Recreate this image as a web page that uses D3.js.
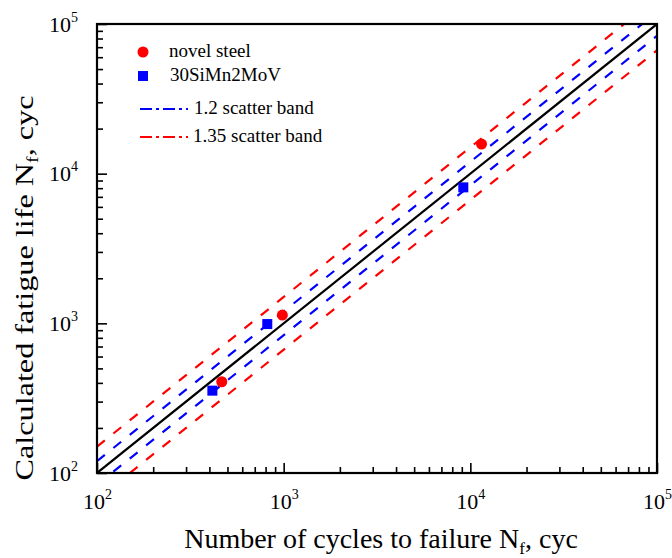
<!DOCTYPE html>
<html>
<head>
<meta charset="utf-8">
<script src="https://cdn.jsdelivr.net/npm/d3@7"></script>
<style>
    body { margin: 0; background: #fff; }
    text { font-family: "Liberation Serif", "Times New Roman", serif; fill: #000; }
</style>
</head>
<body>
<svg id="chart" width="672" height="558"></svg>
<script>
// data
var novelX      = [466, 984, 11480];
var novelY      = [407, 1136, 15770];
var steelX      = [415, 817, 9170];
var steelY      = [355, 989, 8100];
var lineX       = [100, 100000];
var bandFactors = [1.2, 1.5];
var bandColors  = ["#0000ff", "#ff0000"];
var majorTicks  = [1e2, 1e3, 1e4, 1e5];
var legendNames = ["novel steel", "30SiMn2MoV", "1.2 scatter band", "1.35 scatter band"];

var margin = {left: 97, top: 24, right: 15, bottom: 85};
var width  = 672 - margin.left - margin.right;
var height = 558 - margin.top - margin.bottom;

var svg = d3.select("#chart");
var g   = svg.append("g")
    .attr("transform", "translate(" + margin.left + "," + margin.top + ")");

var x = d3.scaleLog().domain([1e2, 1e5]).range([0, width]);
var y = d3.scaleLog().domain([1e2, 1e5]).range([height, 0]);

// minor ticks
var minorTicks = [];
for (var e = 2; e < 5; e++) {
    for (var m = 2; m < 10; m++) minorTicks.push(m * Math.pow(10, e));
}

svg.append("clipPath")
    .attr("id", "plotclip")
    .append("rect")
        .attr("width",  width)
        .attr("height", height);

var plot = g.append("g").attr("clip-path", "url(#plotclip)");

var line = d3.line()
    .x(function(d) { return x(d[0]); })
    .y(function(d) { return y(d[1]); });

// scatter bands
bandFactors.forEach(function(f, i) {
    [f, 1 / f].forEach(function(k) {
        plot.append("path")
            .datum(lineX.map(function(v) { return [v, v * k]; }))
            .attr("d",                line)
            .attr("fill",             "none")
            .attr("stroke",           bandColors[i])
            .attr("stroke-width",     2.2)
            .attr("stroke-dasharray", "10,11");
    });
});

// 1:1 line
plot.append("path")
    .datum(lineX.map(function(v) { return [v, v]; }))
    .attr("d",            line)
    .attr("fill",         "none")
    .attr("stroke",       "#000")
    .attr("stroke-width", 2.2);

// points
g.selectAll(".novel")
    .data(novelX)
    .enter().append("circle")
        .attr("cx",    function(d, i) { return x(d); })
        .attr("cy",    function(d, i) { return y(novelY[i]); })
        .attr("r",     5.5)
        .attr("fill",  "#ff0000")
        .attr("class", "novel");
g.selectAll(".steel")
    .data(steelX)
    .enter().append("rect")
        .attr("x",      function(d, i) { return x(d) - 5; })
        .attr("y",      function(d, i) { return y(steelY[i]) - 5; })
        .attr("width",  10)
        .attr("height", 10)
        .attr("fill",   "#0000ff")
        .attr("class",  "steel");

// axes
function powLabel(sel) {
    sel.selectAll(".tick text")
        .text(null)
        .each(function(d) {
            var t = d3.select(this);
            t.append("tspan").text("10");
            t.append("tspan")
                .attr("dy",        -10)
                .attr("font-size", 14)
                .text(Math.round(Math.log10(d)));
        });
}

var xg = g.append("g")
    .attr("transform", "translate(0," + height + ")");
xg.call(d3.axisBottom(x).tickValues(minorTicks).tickSize(-6).tickFormat(""));
xg.append("g").call(d3.axisBottom(x).tickValues(majorTicks).tickSize(-10).tickSizeOuter(0).tickPadding(20)).call(powLabel);

var yg = g.append("g");
yg.call(d3.axisLeft(y).tickValues(minorTicks).tickSize(-6).tickFormat(""));
yg.append("g").call(d3.axisLeft(y).tickValues(majorTicks).tickSize(-10).tickSizeOuter(0).tickPadding(19)).call(powLabel);

g.selectAll(".domain").remove();
g.selectAll(".tick line").attr("stroke", "#000").attr("stroke-width", 1.6);
g.selectAll(".tick text")
    .attr("font-size",   22)
    .attr("font-family", "Liberation Serif, serif")
    .attr("fill",        "#000");

// frame
g.append("rect")
    .attr("width",        width)
    .attr("height",       height)
    .attr("fill",         "none")
    .attr("stroke",       "#000")
    .attr("stroke-width", 2.2);

// axis titles
var xt = svg.append("text")
    .attr("x",           381)
    .attr("y",           548)
    .attr("text-anchor", "middle")
    .attr("font-size",   28);
xt.append("tspan").text("Number of cycles to failure N");
xt.append("tspan").attr("dy", 6).attr("font-size", 17).text("f");
xt.append("tspan").attr("dy", -6).text(", cyc");

var yt = svg.append("text")
    .attr("transform",   "translate(33,288) scale(1,1.24) rotate(-90)")
    .attr("text-anchor", "middle")
    .attr("font-size",   26);
yt.append("tspan").text("Calculated fatigue life N");
yt.append("tspan").attr("dy", 5).attr("font-size", 16).text("f");
yt.append("tspan").attr("dy", -5).text(", cyc");

// legend
var leg = svg.append("g");
leg.append("circle")
    .attr("cx",   143)
    .attr("cy",   52)
    .attr("r",    5.5)
    .attr("fill", "#ff0000");
leg.append("rect")
    .attr("x",      138)
    .attr("y",      71)
    .attr("width",  10)
    .attr("height", 10)
    .attr("fill",   "#0000ff");
bandColors.forEach(function(c, i) {
    leg.append("line")
        .attr("x1",               140)
        .attr("x2",               188)
        .attr("y1",               109 + 28 * i)
        .attr("y2",               109 + 28 * i)
        .attr("stroke",           c)
        .attr("stroke-width",     2)
        .attr("stroke-dasharray", "12,4,3,4");
});
var legY = [57, 81, 114, 142];
var legX = [169, 170, 194, 193];
legendNames.forEach(function(n, i) {
    leg.append("text")
        .attr("x",         legX[i])
        .attr("y",         legY[i])
        .attr("font-size", 19)
        .text(n);
});
</script>
</body>
</html>
